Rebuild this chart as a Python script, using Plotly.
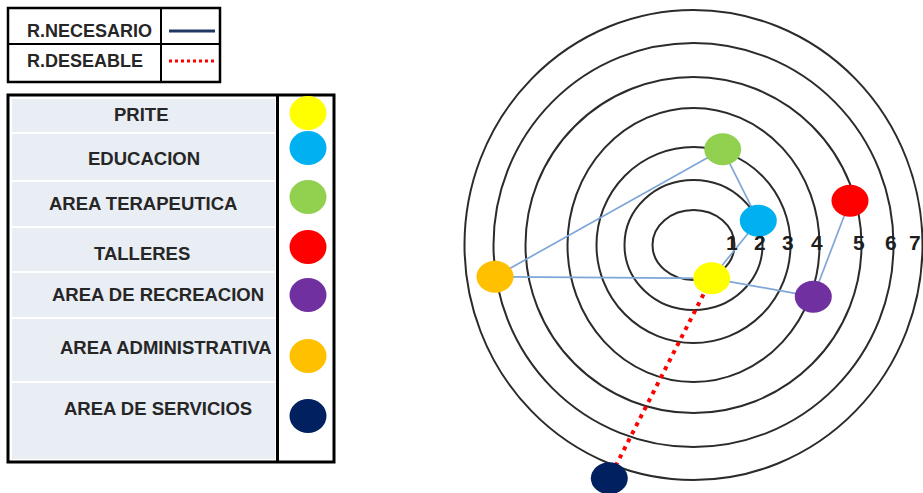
"""
Diagrama de relaciones entre areas (anillos concentricos) con su leyenda.
"""

import plotly.graph_objects as go

# areas y su color
areas = ["PRITE", "EDUCACION", "AREA TERAPEUTICA", "TALLERES",
         "AREA DE RECREACION", "AREA ADMINISTRATIVA", "AREA DE SERVICIOS"]
area_colors = ["#FFFF00", "#00B0F0", "#92D050", "#FF0000",
               "#7030A0", "#FFC000", "#002060"]

# ubicacion de cada area sobre el diagrama
node_x = [711.7, 758.3, 722.7, 850.0, 813.3, 495.0, 609.3]
node_y = [278.3, 220.7, 149.3, 200.7, 296.7, 276.7, 478.3]

# anillos numerados 1..7 (radio horizontal / vertical)
ring_labels = ["1", "2", "3", "4", "5", "6", "7"]
ring_rx = [41, 69, 97, 126, 168, 200, 229]
ring_ry = [35, 65, 98, 137, 168, 202, 235]

# relaciones entre areas
rel_necesario = [("AREA TERAPEUTICA", "EDUCACION"),
                 ("EDUCACION", "PRITE"),
                 ("PRITE", "AREA ADMINISTRATIVA"),
                 ("AREA ADMINISTRATIVA", "AREA TERAPEUTICA"),
                 ("PRITE", "AREA DE RECREACION"),
                 ("AREA DE RECREACION", "TALLERES")]
rel_deseable = [("PRITE", "AREA DE SERVICIOS")]

legend_lines = ["R.NECESARIO", "R.DESEABLE"]

W, H = 923, 493
CX, CY = 693.5, 245          # centro de los anillos
FONT = "Liberation Sans"
TXT = "#262626"
LINK_BLUE = "#7FA6D8"

pos = {a: (x, y) for a, x, y in zip(areas, node_x, node_y)}

fig = go.Figure()
shapes = []
annotations = []

# --- anillos
for rx, ry in zip(ring_rx, ring_ry):
    shapes.append(dict(type="circle", xref="x", yref="y", layer="below",
                       x0=CX - rx, x1=CX + rx, y0=CY - ry, y1=CY + ry,
                       line=dict(color="#2b2b2b", width=2)))

# --- relaciones necesarias (linea azul) y deseables (punteada roja)
for a, b in rel_necesario:
    fig.add_trace(go.Scatter(x=[pos[a][0], pos[b][0]], y=[pos[a][1], pos[b][1]],
                             mode="lines", line=dict(color=LINK_BLUE, width=1.7),
                             hoverinfo="skip", showlegend=False))
for a, b in rel_deseable:
    fig.add_trace(go.Scatter(x=[pos[a][0], pos[b][0]], y=[pos[a][1], pos[b][1]],
                             mode="lines", line=dict(color="#FF0000", width=4, dash="4px,5px"),
                             hoverinfo="skip", showlegend=False))

# --- nodos (elipses)
for x, y, c in zip(node_x, node_y, area_colors):
    shapes.append(dict(type="circle", xref="x", yref="y", layer="above",
                       x0=x - 18.5, x1=x + 18.5, y0=y - 16, y1=y + 16,
                       fillcolor=c, line=dict(width=0)))

# --- numeros de los anillos (el 7 queda pegado al borde derecho)
for lab, rx in zip(ring_labels, ring_rx):
    lx = min(CX + rx - 3, W - 8)
    annotations.append(dict(x=lx, y=CY - 3, xref="x", yref="y",
                            text="<b>%s</b>" % lab, showarrow=False,
                            font=dict(family=FONT, size=21, color="#1e1e1e")))

# --- tabla de tipos de relacion
shapes.append(dict(type="rect", xref="x", yref="y", x0=8, x1=220, y0=8, y1=82,
                   line=dict(color="black", width=2.5)))
shapes.append(dict(type="line", xref="x", yref="y", x0=8, x1=220, y0=44, y1=44,
                   line=dict(color="black", width=2)))
shapes.append(dict(type="line", xref="x", yref="y", x0=161, x1=161, y0=8, y1=82,
                   line=dict(color="black", width=2)))
for lab, yy in zip(legend_lines, [31, 61]):
    annotations.append(dict(x=25, y=yy, xref="x", yref="y", xanchor="left",
                            text="<b>%s</b>" % lab, showarrow=False,
                            font=dict(family=FONT, size=18, color=TXT)))
fig.add_trace(go.Scatter(x=[169, 215], y=[31, 31], mode="lines",
                         line=dict(color="#1F3864", width=3),
                         hoverinfo="skip", showlegend=False))
fig.add_trace(go.Scatter(x=[169, 215], y=[61, 61], mode="lines",
                         line=dict(color="#FF0000", width=3, dash="3px,3px"),
                         hoverinfo="skip", showlegend=False))

# --- tabla de areas
shapes.append(dict(type="rect", xref="x", yref="y", x0=12, x1=275, y0=99, y1=459,
                   fillcolor="#E9EDF4", line=dict(width=0)))
for yy in [133, 181, 227, 272, 318, 382]:
    shapes.append(dict(type="line", xref="x", yref="y", x0=12, x1=275, y0=yy, y1=yy,
                       line=dict(color="white", width=2)))
shapes.append(dict(type="rect", xref="x", yref="y", x0=8, x1=334, y0=95, y1=462,
                   line=dict(color="black", width=3)))
shapes.append(dict(type="line", xref="x", yref="y", x0=277.5, x1=277.5, y0=95, y1=462,
                   line=dict(color="black", width=3)))

text_x = [141, 144, 143, 142, 158, 166, 158]
text_y = [114, 158, 203, 253, 294, 347, 408]
dot_y = [113, 148, 197, 247, 295, 356, 416]
for a, c, tx, ty, dy in zip(areas, area_colors, text_x, text_y, dot_y):
    annotations.append(dict(x=tx, y=ty, xref="x", yref="y",
                            text="<b>%s</b>" % a, showarrow=False,
                            font=dict(family=FONT, size=18.5, color=TXT)))
    shapes.append(dict(type="circle", xref="x", yref="y", layer="above",
                       x0=308 - 18.5, x1=308 + 18.5, y0=dy - 17, y1=dy + 17,
                       fillcolor=c, line=dict(width=0)))

fig.update_layout(width=W, height=H, margin=dict(l=0, r=0, t=0, b=0),
                  paper_bgcolor="white", plot_bgcolor="white",
                  shapes=shapes, annotations=annotations, showlegend=False)
fig.update_xaxes(range=[0, W], visible=False, fixedrange=True)
fig.update_yaxes(range=[H, 0], visible=False, fixedrange=True)

fig.write_html("out.html", config={"displayModeBar": False},
               post_script="document.body.style.margin='0';")
